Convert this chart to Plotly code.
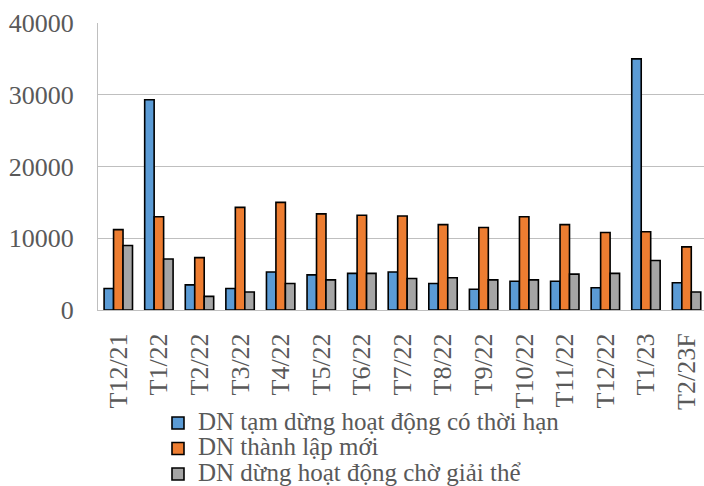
import plotly.graph_objects as go

months = ["T12/21", "T1/22", "T2/22", "T3/22", "T4/22", "T5/22", "T6/22", "T7/22",
          "T8/22", "T9/22", "T10/22", "T11/22", "T12/22", "T1/23", "T2/23F"]

tam_dung = [3000, 29300, 3500, 3000, 5300, 4900, 5100, 5300,
            3700, 2900, 4000, 4000, 3100, 35000, 3800]
thanh_lap = [11200, 13000, 7300, 14300, 15000, 13400, 13200, 13100,
             11900, 11500, 13000, 11900, 10800, 10900, 8800]
giai_the = [9000, 7100, 1900, 2500, 3700, 4200, 5100, 4400,
            4500, 4200, 4200, 5000, 5100, 6900, 2500]

series_names = ["DN tạm dừng hoạt động có thời hạn",
                "DN thành lập mới",
                "DN dừng hoạt động chờ giải thể"]
series_values = [tam_dung, thanh_lap, giai_the]
series_colors = ["#5B9BD5", "#ED7D31", "#A5A5A5"]

FONT = "Liberation Serif, Tinos, Times New Roman, serif"
TEXT_COLOR = "#595959"
GRID = "#BFBFBF"

fig = go.Figure()
for name, vals, color in zip(series_names, series_values, series_colors):
    fig.add_trace(go.Bar(
        x=months, y=vals,
        name='<span style="font-size:25px">' + name + '</span>',
        marker=dict(color=color, line=dict(color="black", width=1.6)),
    ))

fig.update_layout(
    template="none",
    width=704, height=486,
    margin=dict(l=98, r=0, t=23, b=176, autoexpand=False),
    paper_bgcolor="white", plot_bgcolor="white",
    barmode="group", bargap=0.3, bargroupgap=0,
    font=dict(family=FONT, color=TEXT_COLOR, size=26),
    showlegend=True,
    legend=dict(
        orientation="v",
        x=0.099, xanchor="left",
        yref="container", y=0.166, yanchor="top",
        font=dict(family=FONT, color=TEXT_COLOR, size=17.3),
        bgcolor="rgba(0,0,0,0)",
        tracegroupgap=0,
    ),
)

fig.update_xaxes(
    type="category",
    range=[-0.5, 14.43],
    tickangle=-90,
    tickfont=dict(family=FONT, color=TEXT_COLOR, size=26),
    showline=True, linecolor=GRID, linewidth=1,
    showgrid=False, ticks="", automargin=False,
    ticklabelstandoff=12,
)

fig.update_yaxes(
    range=[0, 40000],
    dtick=10000,
    tickformat="d",
    tickfont=dict(family=FONT, color=TEXT_COLOR, size=26),
    showline=True, linecolor=GRID, linewidth=1,
    showgrid=True, gridcolor=GRID, gridwidth=1,
    zeroline=False, ticks="", automargin=False,
    ticklabelstandoff=18,
)

# Make sure the serif face is resolved, then draw the figure again with it.
post_script = """
try {
  var gd = document.getElementById('{plot_id}');
  var ctx = document.createElement('canvas').getContext('2d');
  ['Liberation Serif', 'Tinos', 'Times New Roman', 'serif'].forEach(function (f) {
    ctx.font = '26px ' + f;
    ctx.measureText('T12/21 DN tạm dừng hoạt động 40000');
  });
  var t0 = Date.now();
  while (Date.now() - t0 < 400) {}
  Plotly.redraw(gd);
} catch (e) {}
"""

fig.write_html("out.html", post_script=post_script)
